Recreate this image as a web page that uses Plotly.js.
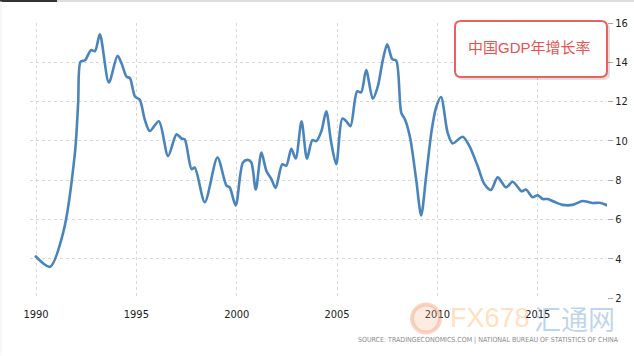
<!DOCTYPE html>
<html>
<head>
<meta charset="utf-8">
<script src="https://cdn.plot.ly/plotly-3.0.1.min.js"></script>
<style>html,body{margin:0;padding:0;background:#fff;}#chart{width:634px;height:356px;}</style>
</head>
<body>
<div id="chart"></div>
<script>
// ---- data ----
const years = [1989.95,1990.7,1991.36,1991.94,1992.1,1992.22,1992.44,1992.74,1992.94,1993.18,1993.63,1994.06,1994.26,1994.51,1994.68,1994.93,1995.17,1995.42,1995.67,1996.12,1996.58,1997.0,1997.25,1997.41,1997.75,1997.91,1998.41,1999.04,1999.49,1999.65,1999.95,2000.31,2000.56,2000.73,2000.95,2001.23,2001.48,2001.73,2001.94,2002.27,2002.47,2002.72,2002.94,2003.23,2003.5,2003.77,2003.97,2004.22,2004.46,2004.71,2004.96,2005.26,2005.46,2005.67,2006.0,2006.2,2006.45,2006.78,2007.03,2007.28,2007.5,2007.75,2007.95,2008.2,2008.39,2008.64,2008.94,2009.19,2009.44,2009.72,2009.94,2010.18,2010.51,2010.76,2011.26,2011.59,2012.0,2012.34,2012.67,2013.0,2013.42,2013.75,2014.2,2014.41,2014.74,2015.0,2015.25,2015.49,2015.82,2016.23,2016.73,2017.23,2017.48,2017.72,2018.14,2018.47];
const gdpGrowth = [4.15,3.59,5.36,9.4,11.93,14.03,14.1,14.62,14.57,15.43,12.97,14.33,13.95,13.27,13.19,12.26,12.09,11.08,10.5,11.0,9.23,10.33,10.12,10.07,8.56,8.64,6.88,9.15,7.72,7.63,6.71,8.9,9.03,8.9,7.52,9.4,8.47,8.05,7.6,8.81,8.73,9.6,9.1,11.0,9.1,10.04,9.99,10.5,11.5,9.9,8.81,11.13,11.0,10.75,12.52,12.47,13.61,12.14,12.77,14.11,14.92,14.16,14.08,11.42,11.08,10.16,8.05,6.2,8.22,10.58,11.72,12.23,10.41,9.87,10.21,9.74,8.73,7.8,7.5,8.14,7.63,7.92,7.43,7.52,7.13,7.23,7.04,7.04,6.9,6.74,6.74,6.94,6.9,6.84,6.84,6.71];
const xTickVals = [1990,1995,2000,2005,2010,2015];
const xTickText = ['1990','1995','2000','2005','2010','2015'];
const yTickVals = [2,4,6,8,10,12,14,16];
const titleText = '中国GDP年增长率';
const sourceText = 'SOURCE: TRADINGECONOMICS.COM | NATIONAL BUREAU OF STATISTICS OF CHINA';
const wmLatin = 'FX678';
const wmCJK = '汇通网';

// ---- layout helpers (pixel -> paper) ----
const L = 30, R = 607, T = 23, B = 298.5;
const px = v => (v - L) / (R - L);
const py = v => (B - v) / (B - T);
function roundRect(x0, y0, x1, y1, r) {
  const p = [];
  p.push('M', px(x0 + r), py(y0));
  p.push('L', px(x1 - r), py(y0));
  p.push('Q', px(x1), py(y0), px(x1), py(y0 + r));
  p.push('L', px(x1), py(y1 - r));
  p.push('Q', px(x1), py(y1), px(x1 - r), py(y1));
  p.push('L', px(x0 + r), py(y1));
  p.push('Q', px(x0), py(y1), px(x0), py(y1 - r));
  p.push('L', px(x0), py(y0 + r));
  p.push('Q', px(x0), py(y0), px(x0 + r), py(y0));
  p.push('Z');
  return p.join(' ').replace(/ ([\d.-]+) ([\d.-]+)/g, ' $1,$2');
}

const trace = {
  x: years, y: gdpGrowth, type: 'scatter', mode: 'lines',
  line: {color: '#4a84bc', width: 2.6, shape: 'spline', smoothing: 0.8},
  hoverinfo: 'skip'
};

const tickFont = {family: 'Liberation Sans Narrow, DejaVu Sans Condensed, Arial, sans-serif', size: 11, color: '#222'};

const layout = {
  width: 634, height: 356,
  margin: {l: L, r: 634 - R, t: T, b: 356 - B, pad: 0},
  paper_bgcolor: '#fff', plot_bgcolor: '#fff',
  showlegend: false,
  xaxis: {
    range: [1989.70, 2018.45], tickvals: xTickVals, ticktext: xTickText,
    showgrid: true, gridcolor: '#d8d8d8', griddash: 'dot', gridwidth: 1,
    zeroline: false, showline: false, ticks: '', tickfont: tickFont, fixedrange: true,
    ticklabelstandoff: 8
  },
  yaxis: {
    side: 'right', range: [2, 16], tickvals: yTickVals,
    showgrid: true, gridcolor: '#d8d8d8', griddash: 'dot', gridwidth: 1,
    zeroline: false, showline: false, ticks: 'outside', ticklen: 5, tickcolor: '#aaa',
    tickfont: tickFont, fixedrange: true
  },
  shapes: [
    // page frame remnants
    {type: 'line', xref: 'paper', yref: 'paper', x0: px(0), x1: px(634), y0: py(1), y1: py(1), line: {color: '#ddd', width: 2}},
    {type: 'line', xref: 'paper', yref: 'paper', x0: px(0), x1: px(57), y0: py(1), y1: py(1), line: {color: '#333', width: 2}},
    {type: 'line', xref: 'paper', yref: 'paper', x0: px(1), x1: px(1), y0: py(1), y1: py(356), line: {color: '#eee', width: 1}},
    // title box shadow + box
    {type: 'path', xref: 'paper', yref: 'paper', path: roundRect(457, 23, 610, 80, 6), fillcolor: 'rgba(0,0,0,0.12)', line: {width: 0}},
    {type: 'path', xref: 'paper', yref: 'paper', path: roundRect(455, 21, 607, 77, 6), fillcolor: '#fff', line: {color: '#e8625e', width: 2}},
    // watermark logo circle
    {type: 'circle', xref: 'paper', yref: 'paper', x0: px(412), x1: px(440), y0: py(333), y1: py(305), fillcolor: 'rgba(250,180,140,0.25)', line: {color: 'rgba(240,150,110,0.4)', width: 4}}
  ],
  annotations: [
    {xref: 'paper', yref: 'paper', x: px(466), y: py(48), xanchor: 'left', yanchor: 'middle', showarrow: false,
     text: titleText, font: {family: 'Liberation Sans, Noto Sans CJK SC, sans-serif', size: 15, color: '#e8534f'}},
    {xref: 'paper', yref: 'paper', x: px(448), y: py(319), xanchor: 'left', yanchor: 'middle', showarrow: false,
     text: wmLatin, font: {family: 'Liberation Sans, sans-serif', size: 27, color: 'rgba(255,185,110,0.45)'}},
    {xref: 'paper', yref: 'paper', x: px(617), y: py(319), xanchor: 'right', yanchor: 'middle', showarrow: false,
     text: wmCJK, font: {family: 'Noto Sans CJK SC, sans-serif', size: 27, color: 'rgba(110,160,215,0.45)'}},
    {xref: 'paper', yref: 'paper', x: px(621), y: py(341), xanchor: 'right', yanchor: 'middle', showarrow: false,
     text: sourceText, font: {family: 'Liberation Sans Narrow, DejaVu Sans Condensed, sans-serif', size: 7, color: '#8a8a8a'}}
  ]
};

Plotly.newPlot('chart', [trace], layout, {displayModeBar: false, staticPlot: true});
</script>
</body>
</html>
